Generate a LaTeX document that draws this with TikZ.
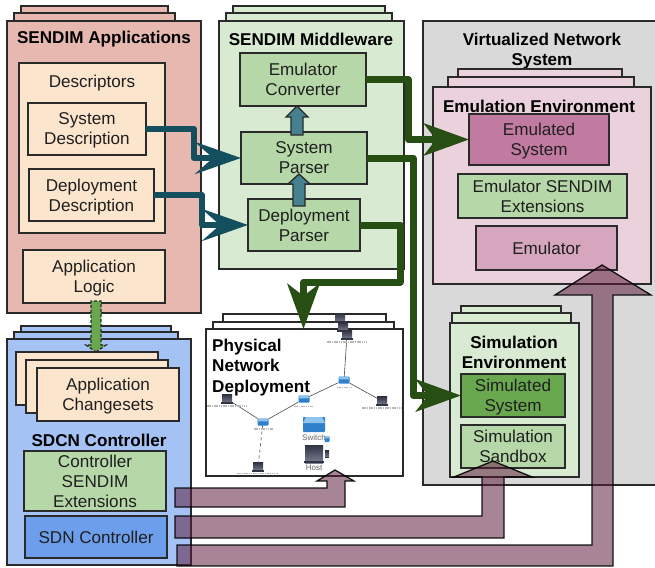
\documentclass[tikz,border=0pt]{standalone}
\usepackage{fontspec}
\setmainfont{Liberation Sans}
\usetikzlibrary{arrows.meta,calc}
\definecolor{edgec}{HTML}{2A2A2A}
\definecolor{appc}{HTML}{E6B8AF}
\definecolor{peach}{HTML}{FCE5CD}
\definecolor{lgreen}{HTML}{D9EAD3}
\definecolor{mgreen}{HTML}{B6D7A8}
\definecolor{sgreen}{HTML}{6AA84F}
\definecolor{dgreen}{HTML}{274E13}
\definecolor{tealdark}{HTML}{134F5C}
\definecolor{tealmid}{HTML}{45818E}
\definecolor{lpink}{HTML}{EAD1DC}
\definecolor{mpink}{HTML}{D5A6BD}
\definecolor{spink}{HTML}{C27BA0}
\definecolor{lblue}{HTML}{A4C2F4}
\definecolor{mblue}{HTML}{6D9EEB}
\definecolor{vgray}{HTML}{D9D9D9}
\definecolor{plum}{HTML}{5A1939}
\definecolor{swblue}{HTML}{2F7FCB}
\definecolor{swtop}{HTML}{8CC4EE}
\definecolor{hostd}{HTML}{2F3342}
\definecolor{hostl}{HTML}{7C8094}
\tikzset{
  x=1pt,y=-1pt,
  every node/.style={font=\fontsize{17.1}{20}\selectfont,text=black!88},
  bx/.style={draw=edgec,line width=1.3pt,inner sep=0pt,outer sep=0pt,align=center,text depth=-4pt},
  title/.style={font=\fontsize{17.1}{20}\selectfont\bfseries,text=black,align=center,inner sep=0pt},
  tealarrow/.style={draw=tealdark,line width=6pt,line join=round,
    -{Stealth[length=46pt,width=32pt,inset=18pt]}},
  greenarrow/.style={draw=dgreen,line width=7pt,line join=round,
    -{Stealth[length=45pt,width=32pt,inset=12pt]}},
  blockteal/.style={fill=tealmid,draw=edgec,line width=1.3pt},
  blockgreen/.style={fill=sgreen,draw=edgec,line width=1.3pt,dash pattern=on 3pt off 2pt},
  blockplum/.style={fill=plum,fill opacity=.53,draw=black,draw opacity=.9,line width=1.3pt},
  netlink/.style={draw=black!70,line width=.6pt},
  tinylabel/.style={draw=gray!55,line width=1.3pt,dash pattern=on 1.6pt off .7pt},
  legendtext/.style={font=\fontsize{8}{9}\selectfont,text=black!60,inner sep=0pt},
  swnode/.style={fill=swblue,inner sep=0pt,outer sep=0pt,rounded corners=.8pt},
  hostnode/.style={top color=hostd,bottom color=hostl,inner sep=0pt,outer sep=0pt}
}
% name, x1, y1, x2, y2, style, text
\newcommand\bxn[7]{%
  \pgfmathsetmacro\bxw{#4-#2}\pgfmathsetmacro\bxh{#5-#3}%
  \pgfmathsetmacro\bxcx{(#2+#4)/2}\pgfmathsetmacro\bxcy{(#3+#5)/2}%
  \node[bx,#6,minimum width=\bxw pt,minimum height=\bxh pt] (#1) at (\bxcx,\bxcy) {#7};}
% name, x, y, half width, half height
\newcommand\swicon[5]{%
  \node[swnode,minimum width=#4*2pt,minimum height=#5*2pt] (#1) at (#2,#3) {};
  \fill[swtop] ($(#1.north west)+(#4*.25,0)$) -- ($(#1.north east)+(-#4*.25,0)$) -- ($(#1.east)+(0,-#5*.2)$) -- ($(#1.west)+(0,-#5*.2)$) -- cycle;}
\newcommand\hosticon[5]{%
  \node[hostnode,minimum width=#4*2pt,minimum height=#5*2pt] (#1) at (#2,#3) {};
  \fill[hostd] ($(#1.south west)+(-#4*.15,-#5*.25)$) rectangle ($(#1.south east)+(#4*.15,#5*.05)$);}
\begin{document}
\begin{tikzpicture}
\useasboundingbox (0,0) rectangle (655,567);
\fill[white] (0,0) rectangle (655,567);

% --- SENDIM Applications
\bxn{app3}{21}{6}{168}{15}{fill=appc}{}
\bxn{app2}{14}{13}{175}{23}{fill=appc}{}
\bxn{app}{7}{21}{201}{313}{fill=appc}{}
\node[title] (appt) at (104,39) {SENDIM Applications};
\bxn{desc}{19}{63}{165}{233}{fill=peach}{}
\node[inner sep=0pt] (desct) at (92,83) {Descriptors};
\bxn{sysdesc}{28}{103}{146}{155}{fill=peach}{System\\Description}
\bxn{depdesc}{29}{169}{154}{221}{fill=peach}{Deployment\\Description}
\bxn{logic}{23}{250}{165}{303}{fill=peach}{Application\\Logic}

% --- SENDIM Middleware
\bxn{mid3}{233}{6}{385}{15}{fill=lgreen}{}
\bxn{mid2}{226}{13}{392}{23}{fill=lgreen}{}
\bxn{mid}{219}{21}{404}{269}{fill=lgreen}{}
\node[title] (midt) at (311,39) {SENDIM Middleware};
\bxn{conv}{240}{53}{366}{106}{fill=mgreen}{Emulator\\Converter}
\bxn{syspar}{241}{132}{367}{184}{fill=mgreen}{System\\Parser}
\bxn{deppar}{248}{199}{360}{251}{fill=mgreen}{Deployment\\Parser}

% --- Virtualized Network System
\bxn{virt}{423}{21}{660}{485}{fill=vgray}{}
\node[title] (virtt) at (542,51) {Virtualized Network\\System};
\bxn{emu3}{458}{69}{622}{80}{fill=lpink}{}
\bxn{emu2}{448}{77}{634}{90}{fill=lpink}{}
\bxn{emuenv}{433}{87}{651}{284}{fill=lpink}{}
\node[title] (emut) at (539,106) {Emulation Environment};
\bxn{emusys}{469}{114}{609}{165}{fill=spink}{Emulated\\System}
\bxn{emuext}{458}{174}{627}{218}{fill=mgreen}{Emulator SENDIM\\Extensions}
\bxn{emulator}{476}{226}{617}{270}{fill=mpink}{Emulator}

\bxn{sim3}{461}{306}{561}{316}{fill=lgreen}{}
\bxn{sim2}{452}{313}{571}{326}{fill=lgreen}{}
\bxn{simenv}{450}{323}{579}{477}{fill=lgreen}{}
\node[title] (simt) at (514,352) {Simulation\\Environment};
\bxn{simsys}{461}{374}{565}{417}{fill=sgreen}{Simulated\\System}
\bxn{sandbox}{461}{425}{565}{468}{fill=mgreen}{Simulation\\Sandbox}

% --- Physical Network Deployment
\bxn{phy3}{223}{314}{386}{325}{fill=white}{}
\bxn{phy2}{213}{322}{394}{332}{fill=white}{}
\bxn{phy}{206}{329}{403}{476}{fill=white}{}
\node[title,font=\fontsize{17.1}{20.5}\selectfont\bfseries,align=left,anchor=north west] (phyt) at (212,338.5) {Physical\\Network\\Deployment};
\hosticon{h0}{340}{318}{5}{4.5}
\hosticon{h00}{343}{327}{5}{4.5}
\hosticon{htop}{347}{335}{5}{4.5}
\hosticon{hleft}{227}{399}{5}{4.5}
\hosticon{hright}{382}{401}{5}{4.5}
\hosticon{hbot}{258}{467}{5}{4.5}
\swicon{s1}{344}{380}{5.5}{3.5}
\swicon{s2}{304}{399}{5.5}{3.5}
\swicon{s3}{263}{422}{5.5}{3.5}
\draw[netlink] (htop) -- (s1);
\draw[netlink] (s1) -- (hright);
\draw[netlink] (s1) -- (s2);
\draw[netlink] (s2) -- (s3);
\draw[netlink] (s3) -- (hleft);
\draw[netlink,dashed] (s3) -- (hbot);
\draw[tinylabel] (327,342) -- (367,342);
\draw[tinylabel] (337,387.5) -- (353,387.5);
\draw[tinylabel] (362,408) -- (402,408);
\draw[tinylabel] (294,406.5) -- (313,406.5);
\draw[tinylabel] (207,406) -- (247,406);
\draw[tinylabel] (254,429) -- (273,429);
\draw[tinylabel] (237,473.5) -- (278,473.5);
\swicon{lsw}{314}{424.5}{11}{7.5}
\node[legendtext] (lswt) at (314,438) {Switch};
\swicon{lsw2}{327}{439}{2.5}{3}
\hosticon{lh}{314}{454}{9}{9}
\node[legendtext] (lht) at (314,467.5) {Host};
\hosticon{lh2}{327}{454}{2}{3.5}

% --- SDCN Controller
\bxn{sd3}{21}{326}{171}{336}{fill=lblue}{}
\bxn{sd2}{14}{332}{178}{342}{fill=lblue}{}
\bxn{sdcn}{7}{339}{191}{565}{fill=lblue}{}
\bxn{cs1}{16}{352}{158}{405}{fill=peach}{}
\bxn{cs2}{26}{360}{168}{413}{fill=peach}{}
\bxn{cs3}{37}{368}{179}{421}{fill=peach}{Application\\Changesets}
\node[title] (sdt) at (99,440) {SDCN Controller};
\bxn{ctlext}{24}{451}{166}{511}{fill=mgreen}{Controller\\SENDIM\\Extensions}
\bxn{sdn}{25}{516}{167}{558}{fill=mblue}{SDN Controller}

% --- block arrows (up)
\coordinate (u1) at ($(conv.south)+(-6,0)$);
\draw[blockteal] (u1) -- ++(11,11) -- ++(-5,0) -- ++(0,18) -- ++(-12,0) -- ++(0,-18) -- ++(-5,0) -- cycle;
\coordinate (u2) at ($(syspar.south)+(-5,-10)$);
\draw[blockteal] (u2) -- ++(11,10) -- ++(-5,0) -- ++(0,22) -- ++(-12,0) -- ++(0,-22) -- ++(-5,0) -- cycle;

% --- connectors
\draw[tealarrow] (sysdesc.east) -- ++(48,0) |- (syspar.west);
\draw[tealarrow] (depdesc.east) -- ++(48,0) |- (deppar.west);
\coordinate (phytop) at ($(phy.north)+(-1,0)$);
\draw[greenarrow] (deppar.east) -- ++(40,0) |- ($(phytop)+(0,-47)$) -- (phytop);
\draw[greenarrow] (conv.east) -- ++(42,0) |- (emusys.west);
\draw[greenarrow] (syspar.east) -- ++(46,0) |- (simsys.west);

% --- dashed green arrow
\coordinate (g) at ($(sdcn.north)+(-3,13)$);
\draw[blockgreen] (g) -- ++(10,-7) -- ++(-5,0) -- ++(0,-44) -- ++(-10,0) -- ++(0,44) -- ++(-5,0) -- cycle;

% --- plum arrows
\coordinate (p1) at ($(phy.south)+(30.5,-6)$);
\draw[blockplum] (p1) -- ++(19,11) -- ++(-9,0) -- ++(0,26) -- ++(-170,0) -- ++(0,-19) -- ++(152,0) -- ++(0,-7) -- ++(-10,0) -- cycle;
\coordinate (p2) at ($(sandbox.south)+(-20,-7)$);
\draw[blockplum] (p2) -- ++(39,16) -- ++(-28,0) -- ++(0,61) -- ++(-329,0) -- ++(0,-22) -- ++(307,0) -- ++(0,-39) -- ++(-28,0) -- cycle;
\coordinate (p3) at ($(emulator.south)+(55.5,-5)$);
\draw[blockplum] (p3) -- ++(49,30) -- ++(-38,0) -- ++(0,271) -- ++(-436,0) -- ++(0,-21) -- ++(415,0) -- ++(0,-250) -- ++(-37,0) -- cycle;
\end{tikzpicture}
\end{document}
